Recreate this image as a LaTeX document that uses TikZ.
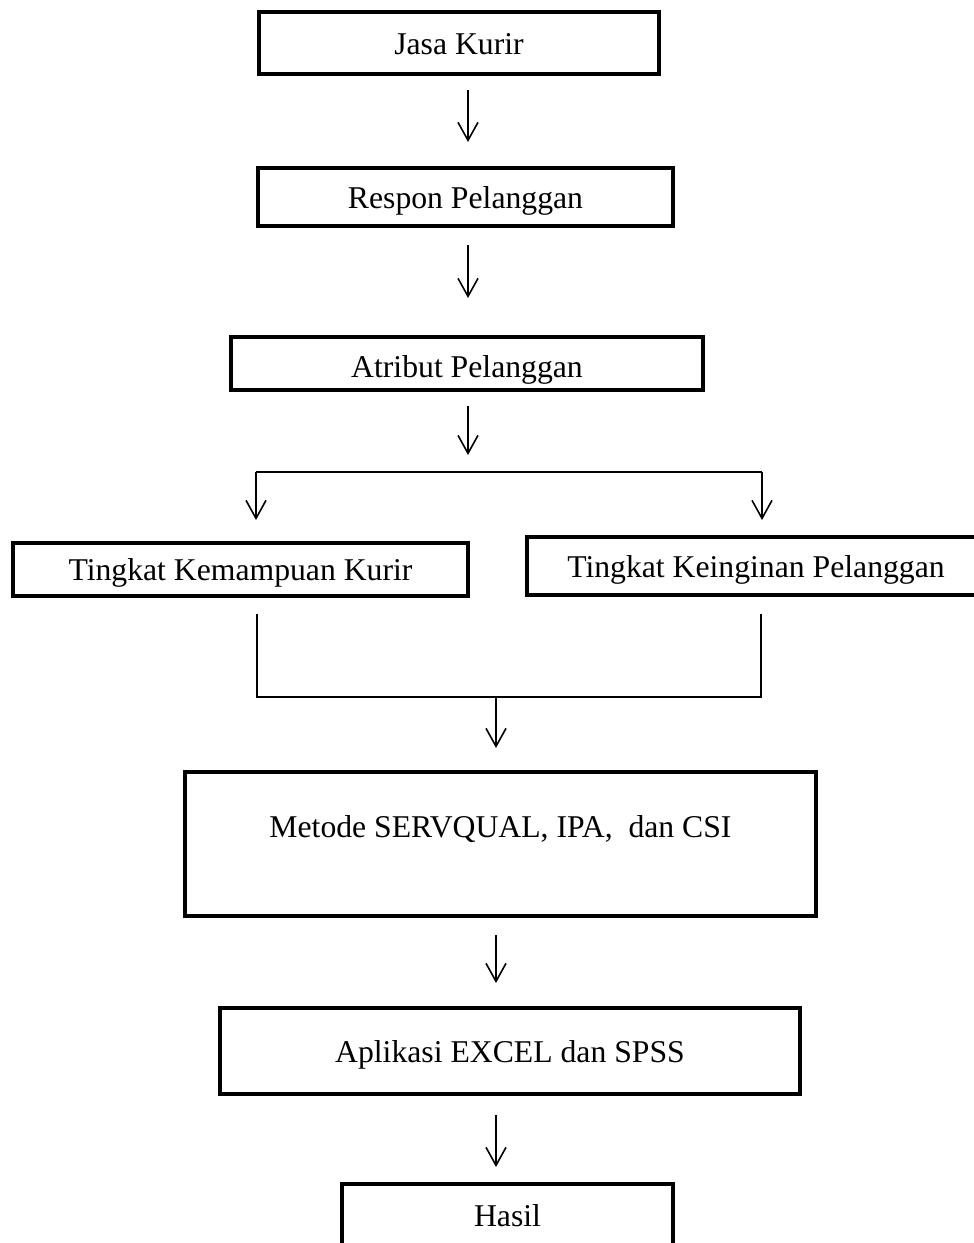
\documentclass[tikz,border=0pt]{standalone}
\usepackage{fontspec}
\setmainfont{Liberation Serif}
\usepackage{tikz}
\usetikzlibrary{arrows.meta}

\begin{document}
\begin{tikzpicture}[
    x=1pt, y=-1pt,
    font=\fontsize{31.7}{38}\selectfont,
    box/.style={rectangle, draw=black, line width=4pt, text centered, inner sep=0pt, text height=22pt, text depth=0pt},
    arrow/.style={line width=1.6pt,->,>={Straight Barb[length=18pt,width=20pt]}},
    line/.style={line width=1.6pt}
]
    \useasboundingbox (0,0) rectangle (974,1243);

    \node (jasa) [box, minimum width=400pt, minimum height=62pt] at (459,43) {Jasa Kurir};
    \node (respon) [box, minimum width=415pt, minimum height=58pt] at (465.5,197) {Respon Pelanggan};
    \node (atribut) [box, minimum width=472pt, minimum height=53pt, text height=27pt] at (467,363.5) {Atribut Pelanggan};

    \node (kemampuan) [box, minimum width=455pt, minimum height=53pt] at (240.5,569.5) {Tingkat Kemampuan Kurir};
    \node (keinginan) [box, minimum width=458pt, minimum height=58pt] at (756,566) {Tingkat Keinginan Pelanggan};

    \node (metode) [box, minimum width=631pt, minimum height=144pt, text depth=36pt] at (500.5,844) {Metode SERVQUAL, IPA, \ dan CSI};
    \node (aplikasi) [box, minimum width=580pt, minimum height=86pt] at (510,1051) {Aplikasi EXCEL dan SPSS};
    \node (hasil) [box, minimum width=331pt, minimum height=62pt] at (507.5,1215) {Hasil};

    \coordinate (upper) at (468,0);
    \coordinate (lower) at (496,0);
    \coordinate (forkL) at (256,472);
    \coordinate (forkR) at (762,472);
    \coordinate (joinL) at (257,697);
    \coordinate (joinR) at (761,697);

    \draw [arrow, shorten <=14pt, shorten >=24pt] (jasa.south -| upper) -- (respon.north -| upper);
    \draw [arrow, shorten <=17pt, shorten >=37pt] (respon.south -| upper) -- (atribut.north -| upper);
    \draw [arrow, shorten <=14pt, shorten >=17pt] (atribut.south -| upper) -- (forkL -| upper);

    \draw [line] (forkL) -- (forkR);
    \draw [arrow, shorten >=21pt] (forkL) -- (forkL |- kemampuan.north);
    \draw [arrow, shorten >=15pt] (forkR) -- (forkR |- keinginan.north);

    \draw [line, shorten <=16pt, shorten >=17pt] (kemampuan.south -| joinL) -- (joinL) -- (joinR) -- (keinginan.south -| joinR);
    \draw [arrow, shorten >=22pt] (joinL -| lower) -- (metode.north -| lower);

    \draw [arrow, shorten <=17pt, shorten >=23pt] (metode.south -| lower) -- (aplikasi.north -| lower);
    \draw [arrow, shorten <=19pt, shorten >=15pt] (aplikasi.south -| lower) -- (hasil.north -| lower);
\end{tikzpicture}
\end{document}
